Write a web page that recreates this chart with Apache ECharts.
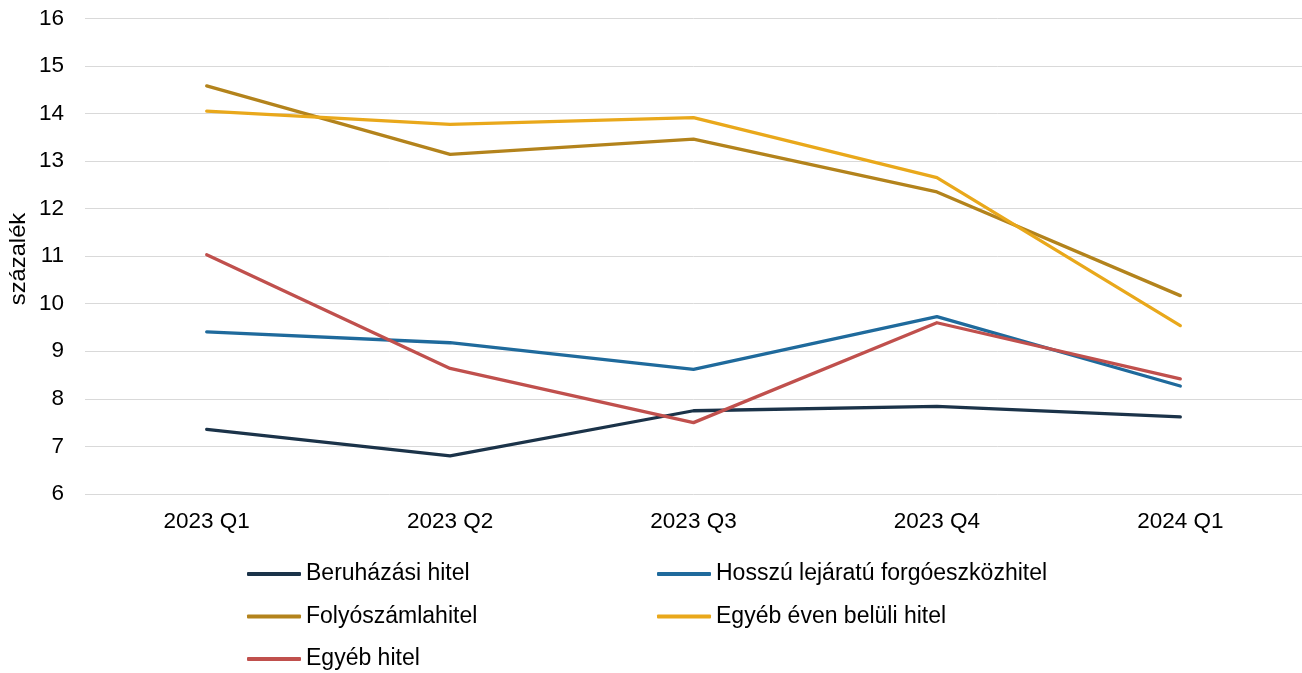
<!DOCTYPE html>
<html>
<head>
<meta charset="utf-8">
<script src="https://cdn.jsdelivr.net/npm/echarts@6/dist/echarts.min.js"></script>
<style>
  html, body { margin: 0; padding: 0; background: #ffffff; }
  #chart { width: 1302px; height: 673px; }
</style>
</head>
<body>
<div id="chart"></div>
<script>
// Quarterly interest rates by loan type (percent)
const categories = ['2023 Q1', '2023 Q2', '2023 Q3', '2023 Q4', '2024 Q1'];
const beruhazasi = [7.36, 6.80, 7.75, 7.84, 7.62];
const hosszu = [9.41, 9.18, 8.62, 9.73, 8.27];
const folyoszamla = [14.58, 13.14, 13.46, 12.35, 10.17];
const egyebEvenBelul = [14.05, 13.77, 13.91, 12.65, 9.54];
const egyeb = [11.03, 8.64, 7.50, 9.60, 8.42];
const yAxisTitle = 'százalék';

const seriesDefs = [
  { name: 'Beruházási hitel', data: beruhazasi, color: '#1b3349' },
  { name: 'Hosszú lejáratú forgóeszközhitel', data: hosszu, color: '#1f6a9c' },
  { name: 'Folyószámlahitel', data: folyoszamla, color: '#b3831c' },
  { name: 'Egyéb éven belüli hitel', data: egyebEvenBelul, color: '#e9a81b' },
  { name: 'Egyéb hitel', data: egyeb, color: '#c0504d' }
];

const font = 'Liberation Sans, Arial, sans-serif';

// Legend laid out in two aligned columns, one legend component per entry
const legendPos = [
  { left: 247, top: 562.5 },
  { left: 657, top: 562.5 },
  { left: 247, top: 605 },
  { left: 657, top: 605 },
  { left: 247, top: 647.5 }
];

const chart = echarts.init(document.getElementById('chart'), null, { renderer: 'canvas' });
chart.setOption({
  animation: false,
  backgroundColor: '#ffffff',
  grid: {
    left: 85, right: 0, top: 18.3, bottom: 673 - 494,
    containLabel: false,
    outerBoundsMode: 'none'
  },
  // Rotated axis title
  graphic: [{
    type: 'text',
    x: 18.5,
    y: 259,
    rotation: Math.PI / 2,
    scaleX: 1.08,
    style: {
      text: yAxisTitle,
      font: '22px ' + font,
      fill: '#000000',
      align: 'center',
      verticalAlign: 'middle'
    }
  }],
  legend: seriesDefs.map((s, i) => ({
    data: [s.name],
    left: legendPos[i].left,
    top: legendPos[i].top,
    icon: 'roundRect',
    itemWidth: 54,
    itemHeight: 4,
    itemGap: 0,
    padding: 0,
    textStyle: { fontFamily: font, fontSize: 23, color: '#000000' }
  })),
  xAxis: {
    type: 'category',
    data: categories,
    boundaryGap: true,
    axisLine: { show: false },
    axisTick: { show: false },
    axisLabel: { fontFamily: font, fontSize: 22.5, color: '#000000', margin: 16 }
  },
  yAxis: {
    type: 'value',
    min: 6,
    max: 16,
    interval: 1,
    axisLine: { show: false },
    axisTick: { show: false },
    axisLabel: { fontFamily: font, fontSize: 22.5, color: '#000000', margin: 21 },
    splitLine: { lineStyle: { color: '#d9d9d9', width: 1 } }
  },
  series: seriesDefs.map(s => ({
    name: s.name,
    type: 'line',
    data: s.data,
    symbol: 'none',
    color: s.color,
    lineStyle: { color: s.color, width: 3.3, cap: 'round', join: 'round' },
    itemStyle: { color: s.color }
  }))
});
</script>
</body>
</html>
